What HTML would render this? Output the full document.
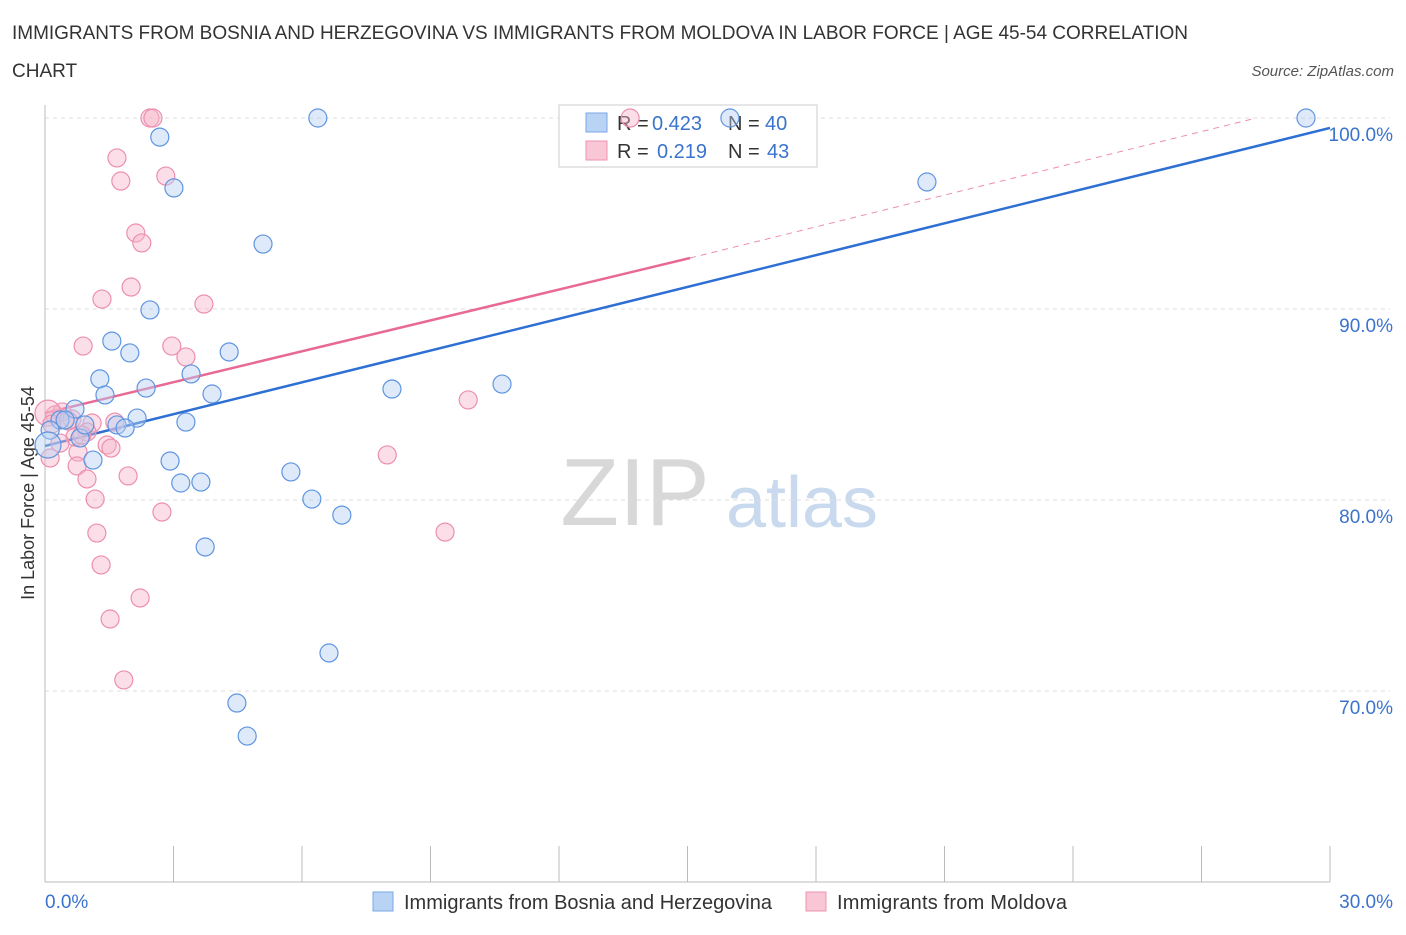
<!DOCTYPE html>
<html><head><meta charset="utf-8"><style>
body{margin:0;background:#fff;font-family:"Liberation Sans",sans-serif;}
svg text{font-family:"Liberation Sans",sans-serif;}
</style></head><body>
<svg id="chart" width="1406" height="930" xmlns="http://www.w3.org/2000/svg">
<text x="12" y="39" font-size="19" fill="#333" textLength="1176">IMMIGRANTS FROM BOSNIA AND HERZEGOVINA VS IMMIGRANTS FROM MOLDOVA IN LABOR FORCE | AGE 45-54 CORRELATION</text>
<text x="12" y="77" font-size="19" fill="#333">CHART</text>
<text x="1394" y="76" font-size="15" fill="#555" text-anchor="end" font-style="italic">Source: ZipAtlas.com</text>
<text transform="translate(34,493) rotate(-90)" font-size="18" fill="#333" text-anchor="middle">In Labor Force | Age 45-54</text>
<g>
<text x="635" y="525" font-size="96" fill="#d8d8d8" text-anchor="middle" font-family="Liberation Serif">ZIP</text>
<text x="802" y="527" font-size="72" fill="#c9d9ee" text-anchor="middle">atlas</text>
</g>
<g id="grid"></g><g id="axes"></g>
<g>
<rect x="559" y="105" width="258" height="62" fill="#fff" stroke="#ccc"/>
<rect x="586" y="113" width="21" height="19" fill="#b9d3f5" stroke="#7aa7e6"/>
<text x="617" y="130" font-size="20" fill="#333">R =</text>
<text x="652" y="130" font-size="20" fill="#3b73cc">0.423</text>
<text x="728" y="130" font-size="20" fill="#333">N =</text>
<text x="765" y="130" font-size="20" fill="#3b73cc">40</text>
<rect x="586" y="141" width="21" height="19" fill="#f9c6d5" stroke="#ee93b0"/>
<text x="617" y="158" font-size="20" fill="#333">R =</text>
<text x="657" y="158" font-size="20" fill="#3b73cc">0.219</text>
<text x="728" y="158" font-size="20" fill="#333">N =</text>
<text x="767" y="158" font-size="20" fill="#3b73cc">43</text>
</g>
<g id="lines"></g><g id="pts"></g>
<g>
<rect x="373" y="892" width="20" height="19" fill="#b9d3f5" stroke="#7aa7e6"/>
<text x="404" y="909" font-size="20" fill="#333" textLength="368">Immigrants from Bosnia and Herzegovina</text>
<rect x="806" y="892" width="20" height="19" fill="#f9c6d5" stroke="#ee93b0"/>
<text x="837" y="909" font-size="20" fill="#333" textLength="230">Immigrants from Moldova</text>
</g>
</svg>
<script>
const yTicks=[70,80,90,100];
const yTickLabels=["70.0%","80.0%","90.0%","100.0%"];
const xTickLabels=["0.0%","30.0%"];
const blueX=[6.37,2.68,3.01,5.09,2.45,1.56,1.98,4.30,1.28,3.41,2.36,1.40,3.90,8.10,10.67,0.70,2.15,3.29,1.68,1.87,0.35,0.82,1.12,2.92,5.74,3.17,3.64,6.23,6.93,3.74,6.63,4.48,4.72,20.59,29.44,15.99,0.12,0.07,0.47,0.93];
const blueY=[100,99.0,96.34,93.40,89.95,88.32,87.70,87.75,86.34,86.60,85.86,85.50,85.55,85.81,86.07,84.76,84.29,84.08,83.93,83.77,84.19,83.25,82.09,82.04,81.47,80.89,80.94,80.05,79.21,77.54,71.99,69.37,67.64,96.65,100,100,83.66,82.88,84.19,83.93];
const pinkX=[2.45,2.52,13.66,1.68,1.77,2.82,2.12,2.26,2.01,1.33,3.71,0.89,2.96,3.29,0.23,0.40,0.63,1.10,1.63,0.98,1.45,0.77,0.75,1.54,0.70,1.94,0.98,1.17,2.73,1.21,9.88,7.99,9.34,1.31,2.22,1.52,1.84,0.12,0.07,0.54,0.35,0.86,0.16];
const pinkY=[100,100,100,97.91,96.70,96.96,93.98,93.46,91.15,90.52,90.26,88.06,88.06,87.49,84.45,84.61,84.24,84.03,84.08,83.56,82.88,82.51,81.78,82.72,83.30,81.26,81.10,80.05,79.37,78.27,85.24,82.36,78.32,76.60,74.87,73.77,70.58,82.20,84.55,84.14,82.98,83.40,83.98];
const blueLine=[[0,82.83],[30,99.48]];
const pinkSolid=[[0,84.55],[15.06,92.67]];
const pinkDash=[[15.06,92.67],[28.28,100]];
const ns="http://www.w3.org/2000/svg";
const X=v=>45+v*(1285/30), Y=v=>118+(100-v)*19.1;
function mk(tag,attrs,parent){const e=document.createElementNS(ns,tag);for(const k in attrs)e.setAttribute(k,attrs[k]);parent.appendChild(e);return e;}
const grid=document.getElementById('grid'),axes=document.getElementById('axes'),lines=document.getElementById('lines'),pts=document.getElementById('pts');
yTicks.forEach((t,i)=>{
 const g=mk('line',{x1:45,x2:1390,y1:Y(t),y2:Y(t),stroke:'#ddd','stroke-dasharray':'4,4'},grid);
 
 
 const l=mk('text',{x:1393,y:Y(t)+23,'font-size':19,fill:'#3b73cc','text-anchor':'end'},axes);
 l.textContent=yTickLabels[i];
 
 
});
const xa=mk('line',{x1:45,x2:1330,y1:882,y2:882,stroke:'#bbb'},axes);


const ya=mk('line',{x1:45,x2:45,y1:105,y2:882,stroke:'#bbb'},axes);


for(let i=0;i<=10;i++){const t=mk('line',{x1:X(i*3),x2:X(i*3),y1:846,y2:882,stroke:'#bbb'},axes);
 
 }
[[0,'start',45],[30,'end',1393]].forEach((d,i)=>{const l=mk('text',{x:d[2],y:908,'font-size':19,fill:'#3b73cc','text-anchor':d[1]},axes);l.textContent=xTickLabels[i];
 
 });
function ln(p,stroke,dash,name){const e=mk('line',{x1:X(p[0][0]),y1:Y(p[0][1]),x2:X(p[1][0]),y2:Y(p[1][1]),stroke:stroke,'stroke-width':dash?1:2.5},lines);if(dash)e.setAttribute('stroke-dasharray','6,5');
 
 }
function dots(xs,ys,fill,stroke,name){xs.forEach((x,i)=>{const r=(x<0.1)?13:9;const c=mk('circle',{cx:X(x),cy:Y(ys[i]),r:r,fill:fill,'fill-opacity':0.45,stroke:stroke,'stroke-width':1.2},pts);
 
 });}
dots(pinkX,pinkY,'#f7b6c9','#ec8fae','moldova-point');
dots(blueX,blueY,'#b5cff2','#5f95e0','bosnia-point');
ln(pinkDash,'#ec8fae',true,'moldova-trend-extension');
ln(pinkSolid,'#e86a94',false,'moldova-trend-line');
ln(blueLine,'#2e6fd4',false,'bosnia-trend-line');
</script>
</body></html>
